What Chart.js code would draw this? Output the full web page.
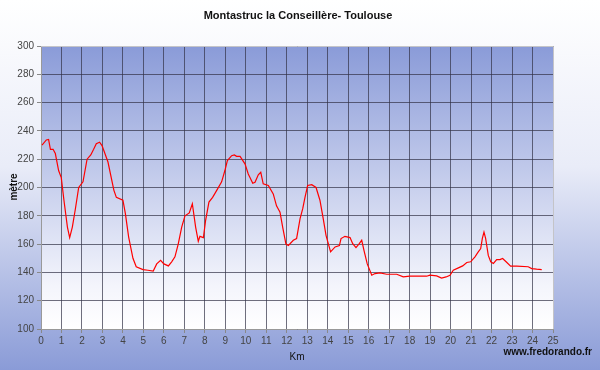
<!DOCTYPE html>
<html>
<head>
<meta charset="utf-8">
<script src="https://cdn.jsdelivr.net/npm/chart.js@4"></script>
<style>
  html, body { margin: 0; padding: 0; }
  #wrap { width: 600px; height: 370px; }
</style>
</head>
<body>
<div id="wrap"><canvas id="myChart" width="600" height="370"></canvas></div>
<script>
// profil altimetrique
const chartTitle = 'Montastruc la Conseillère- Toulouse';
const xTitle = 'Km';
const yTitle = 'mètre';
const siteName = 'www.fredorando.fr';

const distKm = [0.05, 0.26, 0.37, 0.46, 0.59, 0.7, 0.86, 0.99, 1.12, 1.29, 1.4, 1.53, 1.68, 1.84, 2.05, 2.25, 2.43, 2.57, 2.7, 2.86, 2.98,
  3.27, 3.56, 3.68, 4.0, 4.12, 4.28, 4.49, 4.65, 4.98, 5.22, 5.48, 5.65, 5.84, 6.0, 6.22, 6.38, 6.54, 6.7, 6.87, 7.03,
  7.24, 7.39, 7.55, 7.68, 7.76, 7.93, 8.04, 8.2, 8.38, 8.58, 8.82, 8.98, 9.1, 9.31, 9.44, 9.55, 9.72, 9.96, 10.12, 10.34,
  10.45, 10.61, 10.73, 10.85, 11.1, 11.34, 11.5, 11.67, 11.8, 11.96, 12.08, 12.32, 12.48, 12.65, 12.78, 12.89, 13.02, 13.22, 13.43,
  13.62, 13.78, 13.92, 14.14, 14.36, 14.57, 14.65, 14.84, 15.09, 15.22, 15.38, 15.54, 15.66, 15.77, 15.93, 16.15, 16.31, 16.55,
  16.88, 17.37, 17.69, 18.0, 18.83, 18.99, 19.32, 19.56, 19.78, 19.97, 20.13, 20.38, 20.59, 20.79, 20.98, 21.19, 21.35, 21.47,
  21.55, 21.63, 21.71, 21.84, 21.96, 22.09, 22.25, 22.41, 22.54, 22.71, 22.93, 23.23, 23.79, 23.96, 24.2, 24.45];

const elevation = [230, 233.6, 234, 227, 227, 224, 212, 207, 191, 172, 164.6, 172, 185, 200, 204, 220, 223, 227, 231, 232, 229.6,
  218, 198, 193, 191, 181.5, 165, 150, 144, 142, 141.5, 141, 146, 148.5, 146, 144.6, 147.5, 151, 160, 172, 180,
  182, 188.5, 172, 162, 165.5, 164.6, 177, 189.7, 193, 198, 204, 212, 219, 222.5, 223, 222, 222, 216.7, 209.6, 203,
  203.7, 209, 210.8, 202.6, 201.4, 195.5, 187, 182.6, 172, 160, 159, 162.7, 163.9, 178, 185, 193, 201.4, 202, 200,
  191, 178, 166, 154.5, 158, 159, 163.9, 165.5, 164.6, 160.3, 157.5, 160.3, 162.7, 155.6, 146, 138, 139.2, 139.7,
  138.7, 138.7, 136.8, 137.3, 137.3, 138, 137.5, 136, 136.8, 138, 141.5, 143.2, 144.6, 147, 147.5, 151, 154.5, 156.8,
  164, 168.5, 164, 152, 147.5, 146.3, 149, 149, 149.8, 147.5, 144.4, 144.4, 144, 142.7, 142.3, 142];

const xMin = 0, xMax = 25, xStep = 1;
const yMin = 100, yMax = 300, yStep = 20;

const points = distKm.map((d, i) => ({ x: d, y: elevation[i] }));

// fonds degrades + textes
const decorPlugin = {
  id: 'decor',
  beforeDraw(chart) {
    const { ctx, chartArea: a, width, height } = chart;
    ctx.save();
    const bg = ctx.createLinearGradient(0, 0, 0, height);
    bg.addColorStop(0, '#ffffff');
    bg.addColorStop(0.45, '#e9ecf8');
    bg.addColorStop(1, '#8a9bd7');
    ctx.fillStyle = bg;
    ctx.fillRect(0, 0, width, height);
    const pg = ctx.createLinearGradient(0, a.top, 0, a.bottom);
    pg.addColorStop(0, '#8a9bd8');
    pg.addColorStop(0.85, '#f4f5fc');
    pg.addColorStop(1, '#ffffff');
    ctx.fillStyle = pg;
    ctx.fillRect(a.left, a.top, a.right - a.left, a.bottom - a.top);
    ctx.restore();
  },
  afterDraw(chart) {
    const { ctx, chartArea: a } = chart;
    ctx.save();
    ctx.strokeStyle = '#c4c4c8';
    ctx.lineWidth = 1;
    ctx.beginPath();
    ctx.moveTo(a.left, a.top + 0.5);
    ctx.lineTo(a.right + 0.5, a.top + 0.5);
    ctx.lineTo(a.right + 0.5, a.bottom);
    ctx.stroke();

    ctx.fillStyle = '#111';
    ctx.textAlign = 'center';
    ctx.textBaseline = 'middle';
    ctx.font = 'bold 11px Arial, "Liberation Sans", sans-serif';
    ctx.fillText(chartTitle, 298, 16);
    ctx.font = '10px Arial, "Liberation Sans", sans-serif';
    ctx.fillText(xTitle, 297, 357);
    ctx.font = 'bold 10px Arial, "Liberation Sans", sans-serif';
    ctx.textAlign = 'right';
    ctx.fillText(siteName, 592, 352);
    ctx.translate(14, 187);
    ctx.rotate(-Math.PI / 2);
    ctx.textAlign = 'center';
    ctx.fillText(yTitle, 0, 0);
    ctx.restore();
  }
};

const gridColor = 'rgba(50,50,70,0.7)';

new Chart(document.getElementById('myChart'), {
  type: 'line',
  data: {
    datasets: [{
      label: 'profil',
      data: points,
      borderColor: '#ff0000',
      borderWidth: 1.2,
      pointRadius: 0,
      tension: 0,
      fill: false
    }]
  },
  options: {
    responsive: false,
    animation: false,
    devicePixelRatio: 1,
    layout: { padding: { top: 46, right: 47, left: 0, bottom: 0 } },
    plugins: {
      legend: { display: false },
      title: { display: false },
      tooltip: { enabled: false }
    },
    scales: {
      x: {
        type: 'linear',
        min: xMin,
        max: xMax,
        ticks: {
          stepSize: xStep,
          autoSkip: false,
          maxRotation: 0,
          color: '#444',
          padding: 2,
          font: { family: 'Arial, "Liberation Sans", sans-serif', size: 10 }
        },
        grid: { color: gridColor, tickLength: 4, tickColor: '#888' },
        border: { color: '#999' },
        afterFit: (scale) => { scale.height = 41; }
      },
      y: {
        min: yMin,
        max: yMax,
        ticks: {
          stepSize: yStep,
          color: '#444',
          padding: 3,
          font: { family: 'Arial, "Liberation Sans", sans-serif', size: 10 }
        },
        grid: { color: gridColor, tickLength: 4, tickColor: '#888' },
        border: { color: '#999' },
        afterFit: (scale) => { scale.width = 41; }
      }
    }
  },
  plugins: [decorPlugin]
});
</script>
</body>
</html>
